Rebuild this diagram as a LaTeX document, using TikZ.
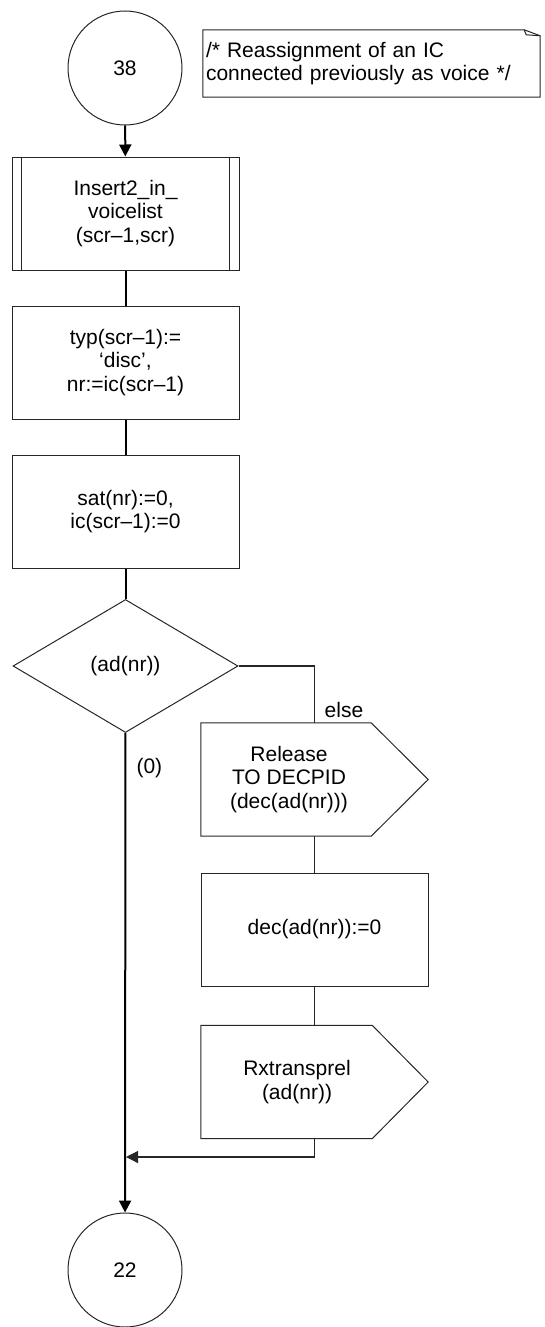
\documentclass[tikz,border=0pt]{standalone}
\usepackage{fontspec}
\setmainfont{Liberation Sans}
\usepackage{tikz}
\usetikzlibrary{shapes,arrows.meta,positioning,calc}

\begin{document}
\begin{tikzpicture}[x=1pt, y=-1pt,
    every node/.style={font=\fontsize{21}{23.5}\selectfont, text=black},
    outline/.style={draw=black!85, line width=1pt},
    conn/.style={circle, outline, minimum size=114pt, inner sep=0pt},
    taskbox/.style={rectangle, outline, minimum width=227pt, minimum height=113pt, align=center, inner sep=0pt},
    sigbox/.style={rectangle, minimum height=113pt, align=center, inner sep=0pt},
    decision/.style={diamond, outline, minimum width=225pt, minimum height=133pt, inner sep=0pt},
    mainline/.style={line width=2pt},
    flow/.style={mainline, -{Triangle[length=12pt,width=12pt]}},
    branch/.style={draw=black!85, line width=1.2pt}]
        \useasboundingbox (0,0) rectangle (545,1327);
        % Connectors
        \node[conn] (c38) at (125,68) {38};
        \node[conn] (c22) at (125,1270) {22};
        % Comment
        \node[text width=331pt, inner xsep=3pt, inner ysep=0pt, minimum height=67pt, align=left] (note) at (371.5,63.5)
            {/* Reassignment of an IC\\connected previously as voice */};
        \draw[outline] (note.north west) -- ([xshift=-16pt]note.north east) -- ([yshift=-6pt]note.north east)
            -- (note.south east) -- (note.south west) -- cycle;
        \draw[outline] ([xshift=-16pt]note.north east) -- ([xshift=-14pt,yshift=-5pt]note.north east) -- ([yshift=-6pt]note.north east);
        % Main column
        \node[taskbox] (p1) at (125.5,213.5) {Insert2\_in\_\\voicelist\\(scr--1,scr)};
        \draw[outline] ([xshift=10pt]p1.north west) -- ([xshift=10pt]p1.south west);
        \draw[outline] ([xshift=-10pt]p1.north east) -- ([xshift=-10pt]p1.south east);
        \node[taskbox] (b2) at (125.5,362.5) {typ(scr--1):=\\`disc',\\nr:=ic(scr--1)};
        \node[taskbox] (b3) at (125.5,511.5) {sat(nr):=0,\\ic(scr--1):=0};
        \node[decision] (dia) at (125.5,666) {(ad(nr))};
        % Else branch
        \node[sigbox, minimum width=176pt] (rel) at (289,779.5) {Release\\TO DECPID\\(dec(ad(nr)))};
        \draw[outline] (rel.north west) -- ([xshift=-6pt]rel.north east) -- ([xshift=51pt]rel.east)
            -- ([xshift=-6pt]rel.south east) -- (rel.south west) -- cycle;
        \node[taskbox] (dec) at (314.5,929.5) {dec(ad(nr)):=0};
        \node[sigbox, minimum width=192pt] (rx) at (297,1082) {Rxtransprel\\(ad(nr))};
        \draw[outline] (rx.north west) -- ([xshift=-21pt]rx.north east) -- ([xshift=35pt]rx.east)
            -- ([xshift=-21pt]rx.south east) -- (rx.south west) -- cycle;
        \coordinate (join) at (126,1157);
        % Lines
        \draw[flow] (c38) -- (p1);
        \draw[mainline] (p1) -- (b2);
        \draw[mainline] (b2) -- (b3);
        \draw[mainline] (b3) -- (dia);
        \draw[flow] (dia) -- (c22);
        \draw[branch] (dia.east) -| (rel.north -| dec.north);
        \draw[branch] (rel.south -| dec.north) -- (dec.north);
        \draw[branch] (dec.south) -- (rx.north -| dec.south);
        \draw[branch, -{Triangle[length=12pt,width=12pt]}] (rx.south -| dec.south) |- (join);
        % Labels
        \node[anchor=west] (zero) at (133,768) {(0)};
        \node (elselbl) at (344,710) {else};
    \end{tikzpicture}
\end{document}
